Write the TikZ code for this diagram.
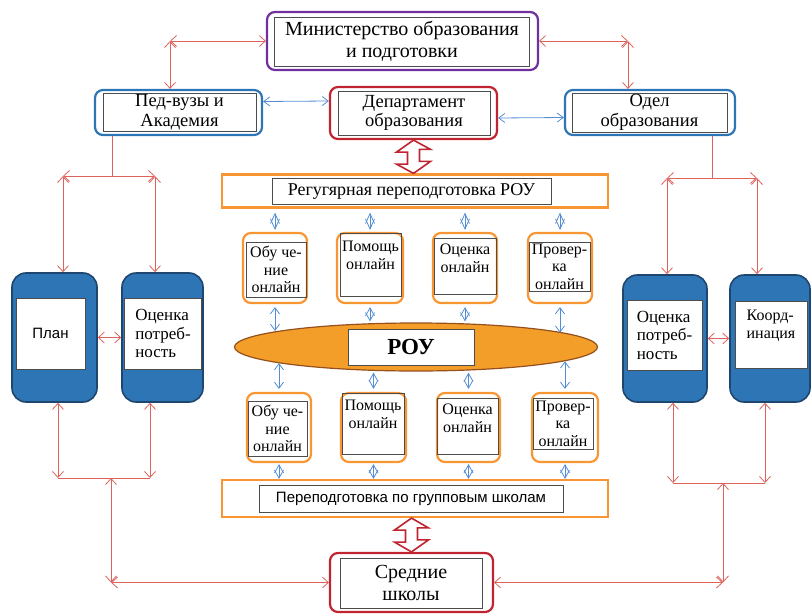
\documentclass[tikz,border=0pt]{standalone}
\usepackage{fontspec}
\setmainfont{Liberation Serif}
\setsansfont{Liberation Sans}
\usetikzlibrary{arrows.meta}
\usetikzlibrary{shapes.geometric}
\usetikzlibrary{calc}
\definecolor{lred}{RGB}{222,98,92}
\definecolor{lblue}{RGB}{84,141,212}
\definecolor{mpurple}{RGB}{112,48,160}
\definecolor{mblue}{RGB}{46,117,182}
\definecolor{mred}{RGB}{192,36,48}
\definecolor{morange}{RGB}{247,150,50}
\definecolor{mnavy}{RGB}{31,70,110}
\definecolor{mbrown}{RGB}{150,80,30}
\definecolor{efill}{RGB}{244,158,42}
\tikzset{frame/.style = {draw=#1, line width=2.2pt, rounded corners=8pt, fill=white, inner sep=0pt},
         inrect/.style = {draw=black!70, line width=0.9pt, inner sep=0pt, align=center},
         pillar/.style = {draw=mnavy, line width=1.6pt, fill=mblue, rounded corners=14pt, inner sep=0pt},
         bigtxt/.style = {font=\fontsize{20}{22.5}\selectfont},
         midtxt/.style = {font=\fontsize{18.5}{19.5}\selectfont},
         regtxt/.style = {font=\fontsize{18}{21}\selectfont},
         smtxt/.style = {font=\fontsize{16}{17.5}\selectfont},
         pltxt/.style = {font=\fontsize{17}{18.5}\selectfont},
         redarr/.style = {draw=lred, line width=0.8pt, >={Straight Barb[length=6pt,width=11pt]}, <->},
         redln/.style = {draw=lred, line width=0.8pt},
         bluarr/.style = {draw=lblue, line width=0.8pt, >={Straight Barb[length=6pt,width=9pt]}, <->},
         dia/.style = {draw=lblue, line width=0.8pt, >={Straight Barb[length=#1,width=9pt]}, <->},
         dia/.default = 9pt,
         hol/.style = {draw=mred, line width=1.6pt, fill=white, line join=miter}}

\begin{document}
\begin{tikzpicture}[x=1pt, y=-1pt]
    \useasboundingbox (0,0) rectangle (811,613);

    % top row
    \node [frame=mpurple, minimum width=271pt, minimum height=58pt] (minF) at (402.5,41) {};
    \node [inrect, bigtxt, minimum width=255pt, minimum height=49pt] (min) at (402,41.5)
          {Министерство образования\\и подготовки};
    \node [frame=mblue, minimum width=167pt, minimum height=45pt] (pedF) at (178.5,112.5) {};
    \node [inrect, midtxt, minimum width=153pt, minimum height=38pt] (ped) at (179.5,112) {Пед-вузы и\\Академия};
    \node [frame=mred, minimum width=167pt, minimum height=52pt] (depF) at (413.5,113) {};
    \node [inrect, midtxt, minimum width=152pt, minimum height=44pt] (dep) at (414,113) {Департамент\\образования};
    \node [frame=mblue, minimum width=170pt, minimum height=45pt] (odF) at (650,112.5) {};
    \node [inrect, midtxt, minimum width=155pt, minimum height=39pt] (od) at (649.5,112.5) {Одел\\образования};

    % middle block
    \node [frame=morange, rounded corners=0pt, minimum width=386pt, minimum height=33pt] (regF) at (415,191) {};
    \node [inrect, regtxt, minimum width=279pt, minimum height=26pt] (reg) at (411.5,191) {Регугярная переподготовка РОУ};

    \node [frame=morange, minimum width=64pt, minimum height=70pt] (t1F) at (275,268) {};
    \node [inrect, smtxt, minimum width=60pt, minimum height=55pt] (t1) at (276,269.5) {Обу че-\\ние\\онлайн};
    \node [frame=morange, minimum width=66pt, minimum height=70pt] (t2F) at (370,268) {};
    \node [inrect, smtxt, minimum width=61pt, minimum height=63pt, text depth=18pt] (t2) at (370.5,264.5) {Помощь\\онлайн};
    \node [frame=morange, minimum width=64pt, minimum height=70pt] (t3F) at (465,268) {};
    \node [inrect, smtxt, minimum width=62pt, minimum height=56pt, text depth=16pt] (t3) at (465,266) {Оценка\\онлайн};
    \node [frame=morange, minimum width=64pt, minimum height=70pt] (t4F) at (560,268) {};
    \node [inrect, smtxt, minimum width=61pt, minimum height=49pt] (t4) at (559.5,266.5) {Провер-\\ка\\онлайн};

    \node [ellipse, draw=mbrown, line width=1.2pt, fill=efill, minimum width=363pt, minimum height=48pt] (rouE) at (416,347) {};
    \node [inrect, fill=white, font=\fontsize{23}{25}\selectfont\bfseries, minimum width=126pt, minimum height=36pt] (rou) at (411,347) {РОУ};

    \node [frame=morange, minimum width=64pt, minimum height=69pt] (b1F) at (279,427.5) {};
    \node [inrect, smtxt, minimum width=59pt, minimum height=55pt] (b1) at (277.5,428.5) {Обу че-\\ние\\онлайн};
    \node [frame=morange, minimum width=65pt, minimum height=69pt] (b2F) at (373.5,427.5) {};
    \node [inrect, smtxt, minimum width=62pt, minimum height=61pt, text depth=18pt] (b2) at (373,423.5) {Помощь\\онлайн};
    \node [frame=morange, minimum width=63pt, minimum height=69pt] (b3F) at (468.5,427.5) {};
    \node [inrect, smtxt, minimum width=61pt, minimum height=56pt, text depth=16pt] (b3) at (467.5,426) {Оценка\\онлайн};
    \node [frame=morange, minimum width=66pt, minimum height=69pt] (b4F) at (565,427.5) {};
    \node [inrect, smtxt, minimum width=60pt, minimum height=51pt] (b4) at (563,423.5) {Провер-\\ка\\онлайн};

    \node [frame=morange, rounded corners=0pt, minimum width=386pt, minimum height=37pt] (botF) at (415,498.5) {};
    \node [inrect, font=\fontsize{15}{17}\sffamily, minimum width=304pt, minimum height=27pt] (bot) at (411,498.5)
          {Переподготовка по групповым школам};

    \node [frame=mred, minimum width=163pt, minimum height=59pt] (sredF) at (411.5,582.5) {};
    \node [inrect, bigtxt, minimum width=142pt, minimum height=50pt] (sred) at (411,583) {Средние\\школы};

    % side pillars
    \node [pillar, minimum width=85pt, minimum height=129pt] (planF) at (54.5,337.5) {};
    \node [inrect, fill=white, font=\fontsize{15}{17}\sffamily, minimum width=69pt, minimum height=71pt] (plan) at (50.5,333.5) {План};
    \node [pillar, minimum width=81pt, minimum height=129pt] (ocLF) at (162.5,337.5) {};
    \node [inrect, fill=white, pltxt, align=left, minimum width=77pt, minimum height=71pt] (ocL) at (163,333.5)
          {Оценка\\потреб-\\ность};
    \node [pillar, minimum width=84pt, minimum height=127pt] (ocRF) at (665,338.5) {};
    \node [inrect, fill=white, pltxt, align=left, minimum width=75pt, minimum height=70pt] (ocR) at (664.5,335)
          {Оценка\\потреб-\\ность};
    \node [pillar, minimum width=80pt, minimum height=127pt] (koF) at (770,338.5) {};
    \node [inrect, fill=white, font=\fontsize{16}{18.5}\selectfont, align=left, minimum width=72pt, minimum height=67pt,
           text depth=20pt] (ko) at (771,334.5) {Коорд-\\инация};

    % connectors, top
    \coordinate (cTL) at (170,41);
    \coordinate (cTR) at (628,41);
    \draw [redarr] (cTL) -- (minF.west);
    \draw [redarr] (cTL) -- (cTL |- pedF.north);
    \draw [redarr] (minF.east) -- (cTR);
    \draw [redarr] (cTR) -- (cTR |- odF.north);
    \draw [bluarr] ($(pedF.east)+(0,-11)$) -- ($(depF.west)+(0,-12)$);
    \draw [bluarr] ($(depF.east)+(0,5)$) -- ($(odF.west)+(0,5)$);

    \draw [hol] (depF.south) -- ++(-17,12) -- ++(11,0) -- ++(0,12) -- ++(-11,0) -- (depF.south |- regF.north)
          -- ++(17,-12) -- ++(-11,0) -- ++(0,-12) -- ++(11,0) -- cycle;
    \draw [hol] (sredF.north |- botF.south) -- ++(-17,12) -- ++(11,0) -- ++(0,12) -- ++(-11,0) -- (sredF.north)
          -- ++(17,-12) -- ++(-11,0) -- ++(0,-12) -- ++(11,0) -- cycle;

    % connectors, centre
    \draw [dia=10pt, shorten <=4pt, shorten >=2pt] (t1F.north |- regF.south) -- (t1F.north);
    \draw [dia=10pt, shorten <=4pt, shorten >=2pt] (t2F.north |- regF.south) -- (t2F.north);
    \draw [dia=10pt, shorten <=4pt, shorten >=2pt] (t3F.north |- regF.south) -- (t3F.north);
    \draw [dia=10pt, shorten <=4pt, shorten >=2pt] (t4F.north |- regF.south) -- (t4F.north);
    \draw [bluarr, shorten <=3pt, shorten >=1pt] (t1F.south) -- (t1F.south |- rouE.174);
    \draw [dia=8pt, shorten <=3pt, shorten >=1pt] (t2F.south) -- (t2F.south |- rouE.north);
    \draw [dia=8pt, shorten <=3pt, shorten >=1pt] (t3F.south) -- (t3F.south |- rouE.north);
    \draw [bluarr, shorten <=3pt, shorten >=1pt] (t4F.south) -- (t4F.south |- rouE.5);
    \draw [bluarr, shorten <=1pt, shorten >=3pt] (b1F.north |- rouE.186) -- (b1F.north);
    \draw [dia=8pt, shorten <=1pt, shorten >=3pt] (b2F.north |- rouE.south) -- (b2F.north);
    \draw [dia=8pt, shorten <=1pt, shorten >=3pt] (b3F.north |- rouE.south) -- (b3F.north);
    \draw [bluarr, shorten <=1pt, shorten >=3pt] (b4F.north |- rouE.355) -- (b4F.north);
    \draw [dia=8pt, shorten <=1pt] (b1F.south) -- (b1F.south |- botF.north);
    \draw [dia=8pt, shorten <=1pt] (b2F.south) -- (b2F.south |- botF.north);
    \draw [dia=8pt, shorten <=1pt] (b3F.south) -- (b3F.south |- botF.north);
    \draw [dia=8pt, shorten <=1pt] (b4F.south) -- (b4F.south |- botF.north);

    % connectors, left
    \coordinate (lj) at (112,176);
    \coordinate (l1) at (63,176);
    \coordinate (l2) at (155,176);
    \draw [redln] (lj |- pedF.south) -- (lj);
    \draw [redarr] (l1) -- (l2);
    \draw [redarr] (l1) -- (l1 |- planF.north);
    \draw [redarr] (l2) -- (l2 |- ocLF.north);
    \draw [redarr] (planF.east) -- (ocLF.west);
    \coordinate (lb1) at (58,478);
    \coordinate (lb2) at (150,478);
    \coordinate (lbj) at (111,478);
    \coordinate (lbc) at (111,582.5);
    \draw [redarr] (lb1 |- planF.south) -- (lb1);
    \draw [redarr] (lb2 |- ocLF.south) -- (lb2);
    \draw [redln] (lb1) -- (lb2);
    \draw [redarr] (lbj) -- (lbc);
    \draw [redarr] (lbc) -- (sredF.west);

    % connectors, right
    \coordinate (rj) at (712,178);
    \coordinate (r1) at (667,178);
    \coordinate (r2) at (757,178);
    \draw [redln] (rj |- odF.south) -- (rj);
    \draw [redarr] (r1) -- (r2);
    \draw [redarr] (r1) -- (r1 |- ocRF.north);
    \draw [redarr] (r2) -- (r2 |- koF.north);
    \draw [redarr] (ocRF.east) -- (koF.west);
    \coordinate (rb1) at (673,483);
    \coordinate (rb2) at (765,483);
    \coordinate (rbj) at (723,483);
    \coordinate (rbc) at (723,582.5);
    \draw [redarr] (rb1 |- ocRF.south) -- (rb1);
    \draw [redarr] (rb2 |- koF.south) -- (rb2);
    \draw [redln] (rb1) -- (rb2);
    \draw [redarr] (rbj) -- (rbc);
    \draw [redarr] (rbc) -- (sredF.east);
\end{tikzpicture}
\end{document}
